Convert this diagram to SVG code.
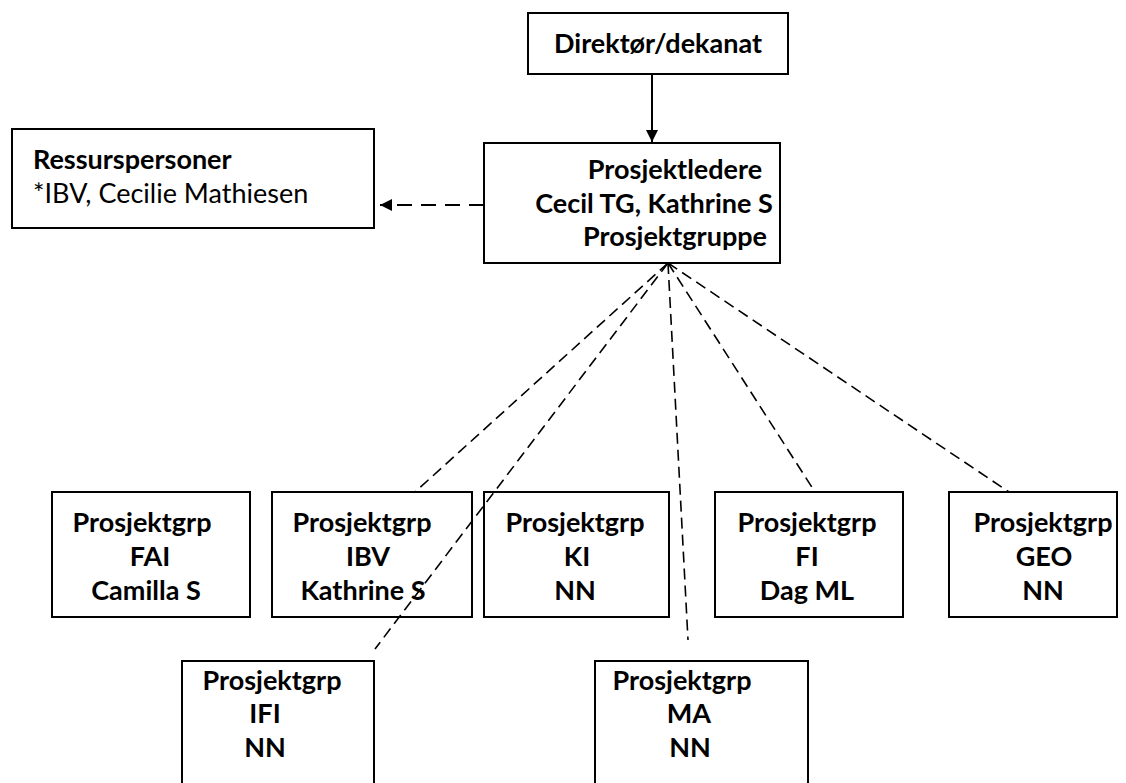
<svg xmlns="http://www.w3.org/2000/svg" width="1126" height="783" viewBox="0 0 1126 783">
<style>
.box{fill:#fff;stroke:#000;stroke-width:2}
.t{font-family:Lato,"Open Sans","Liberation Sans",sans-serif;font-weight:bold;font-size:27px;fill:#000;text-anchor:middle}
.r{font-family:Lato,"Open Sans","Liberation Sans",sans-serif;font-size:27px;fill:#000}
.fan{fill:none;stroke:#000;stroke-width:1.6;stroke-dasharray:11 6}
</style>
<defs>
<marker id="ah" viewBox="0 0 10 10" refX="10" refY="5" markerWidth="6" markerHeight="6" orient="auto" markerUnits="strokeWidth">
<path d="M0,0 L10,5 L0,10 z" fill="#000"/>
</marker>
</defs>
<rect width="1126" height="783" fill="#fff"/>
<g id="connectors">
<line x1="652" y1="74" x2="652" y2="142" stroke="#000" stroke-width="2" marker-end="url(#ah)"/>
<line x1="484" y1="205" x2="380" y2="205" stroke="#000" stroke-width="2" stroke-dasharray="15 9" marker-end="url(#ah)"/>
<line class="fan" x1="668" y1="263" x2="415" y2="492"/>
<line class="fan" x1="668" y1="263" x2="375" y2="649"/>
<line class="fan" x1="668" y1="263" x2="688" y2="640"/>
<line class="fan" x1="668" y1="263" x2="815" y2="492"/>
<line class="fan" x1="668" y1="263" x2="1009" y2="492"/>
</g>
<g id="direktor">
<rect class="box" x="528" y="13" width="260" height="61"/>
<text class="t" x="658" y="53">Direktør/dekanat</text>
</g>
<g id="prosjektledere">
<rect class="box" x="484" y="143" width="296" height="120" fill="none"/>
<text class="t" x="675" y="179">Prosjektledere</text>
<text class="t" x="654" y="213">Cecil TG, Kathrine S</text>
<text class="t" x="675" y="246">Prosjektgruppe</text>
</g>
<g id="ressurspersoner">
<rect class="box" x="12" y="129" width="362" height="99"/>
<text class="t" x="33" y="169" style="text-anchor:start">Ressurspersoner</text>
<text class="r" x="33" y="203">*IBV, Cecilie Mathiesen</text>
</g>
<g id="fai">
<rect class="box" x="52" y="492" width="198" height="125"/>
<text class="t" x="142" y="532">Prosjektgrp</text>
<text class="t" x="150" y="566">FAI</text>
<text class="t" x="146" y="600">Camilla S</text>
</g>
<g id="ibv">
<rect class="box" x="272" y="492" width="200" height="125" style="fill:none"/>
<text class="t" x="362" y="532">Prosjektgrp</text>
<text class="t" x="368" y="566">IBV</text>
<text class="t" x="363" y="600">Kathrine S</text>
</g>
<g id="ki">
<rect class="box" x="484" y="492" width="185" height="125" style="fill:none"/>
<text class="t" x="575" y="532">Prosjektgrp</text>
<text class="t" x="577" y="566">KI</text>
<text class="t" x="575" y="600">NN</text>
</g>
<g id="fi">
<rect class="box" x="715" y="492" width="188" height="125"/>
<text class="t" x="807" y="532">Prosjektgrp</text>
<text class="t" x="807" y="566">FI</text>
<text class="t" x="807" y="600">Dag ML</text>
</g>
<g id="geo">
<rect class="box" x="949" y="492" width="168" height="125"/>
<text class="t" x="1043" y="532">Prosjektgrp</text>
<text class="t" x="1044" y="566">GEO</text>
<text class="t" x="1043" y="600">NN</text>
</g>
<g id="ifi">
<rect class="box" x="182" y="661" width="192" height="130"/>
<text class="t" x="272" y="690">Prosjektgrp</text>
<text class="t" x="265" y="723">IFI</text>
<text class="t" x="265" y="757">NN</text>
</g>
<g id="ma">
<rect class="box" x="595" y="661" width="213" height="130"/>
<text class="t" x="682" y="690">Prosjektgrp</text>
<text class="t" x="689" y="723">MA</text>
<text class="t" x="690" y="757">NN</text>
</g>
</svg>
